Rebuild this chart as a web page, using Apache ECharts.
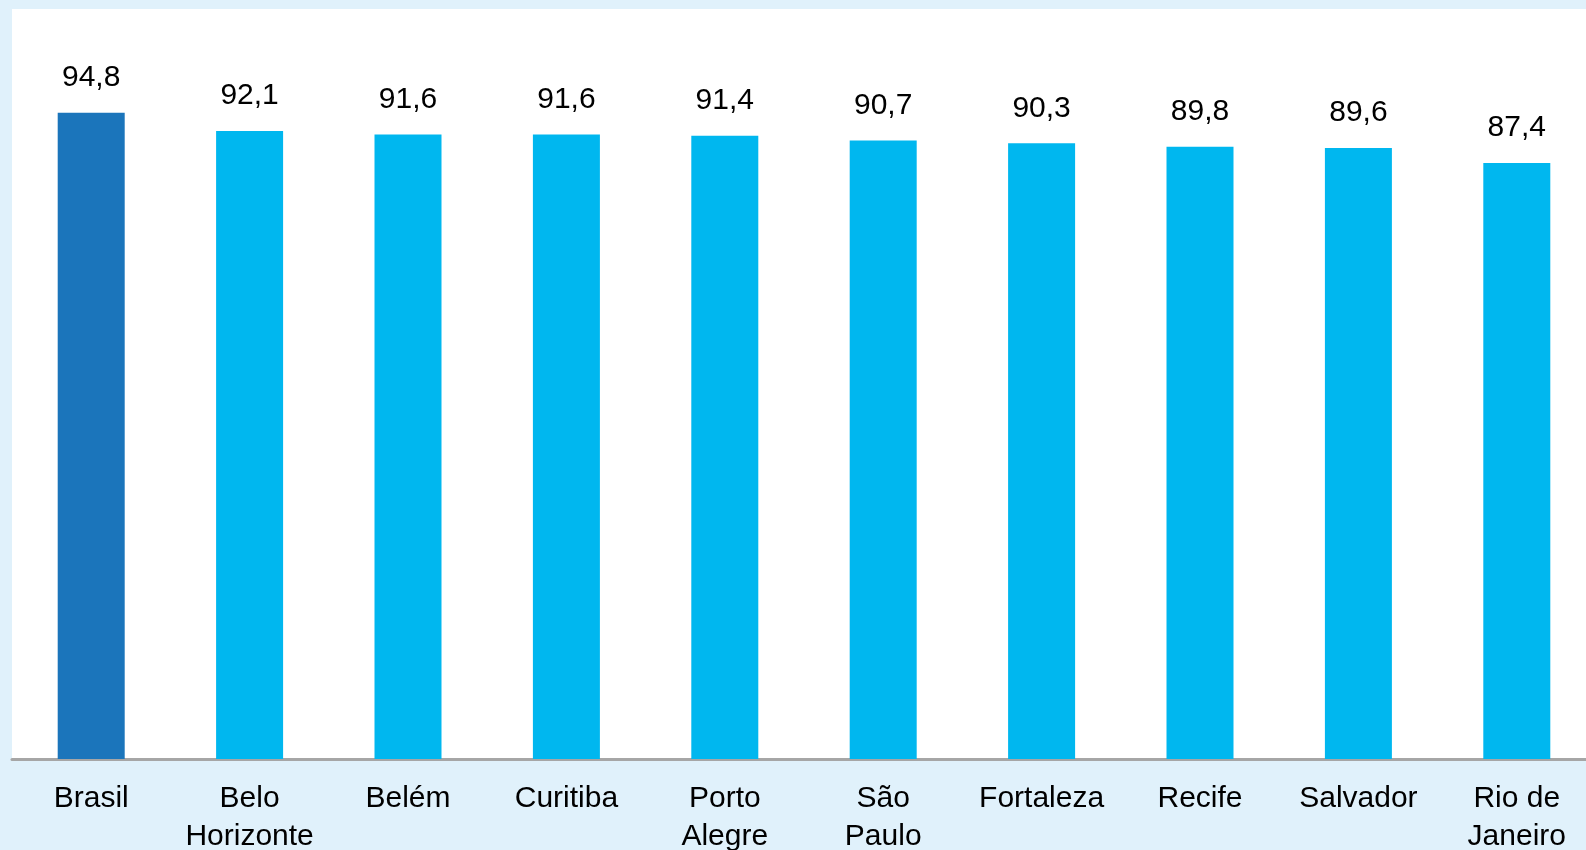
<!DOCTYPE html>
<html>
<head>
<meta charset="utf-8">
<script src="https://cdn.jsdelivr.net/npm/echarts@6/dist/echarts.min.js"></script>
<style>
  html, body { margin: 0; padding: 0; background: #e0f1fb; }
  #main { width: 1586px; height: 850px; }
</style>
</head>
<body>
<div id="main"></div>
<script>
const cities = ['Brasil', 'Belo\nHorizonte', 'Belém', 'Curitiba', 'Porto\nAlegre', 'São\nPaulo', 'Fortaleza', 'Recife', 'Salvador', 'Rio de\nJaneiro'];
const values = [94.8, 92.1, 91.6, 91.6, 91.4, 90.7, 90.3, 89.8, 89.6, 87.4];

const myChart = echarts.init(document.getElementById('main'));

const option = {
  backgroundColor: '#e0f1fb',
  grid: {
    show: true,
    backgroundColor: '#fff',
    borderWidth: 0,
    outerBoundsMode: 'none',
    containLabel: false,
    left: 12,
    width: 1584,
    top: 9,
    bottom: 91
  },
  xAxis: {
    type: 'category',
    data: cities,
    axisLine: { lineStyle: { color: '#a6a6a6', width: 3 } },
    axisTick: { length: 5, lineStyle: { color: '#a6a6a6', width: 3 } },
    axisLabel: {
      interval: 0,
      color: '#000',
      fontFamily: 'Liberation Sans, Arial',
      fontSize: 30,
      lineHeight: 38,
      margin: 21
    }
  },
  yAxis: {
    type: 'value',
    min: 0,
    max: 110,
    show: false,
    splitLine: { show: false }
  },
  series: [{
    type: 'bar',
    data: values,
    barWidth: 67,
    itemStyle: {
      color: p => p.dataIndex === 0 ? '#1b75bb' : '#00b7ef'
    },
    label: {
      show: true,
      position: 'top',
      distance: 20,
      color: '#000',
      fontFamily: 'Liberation Sans, Arial',
      fontSize: 30,
      formatter: p => String(p.value).replace('.', ',')
    }
  }]
};
myChart.setOption(option);
</script>
</body>
</html>
